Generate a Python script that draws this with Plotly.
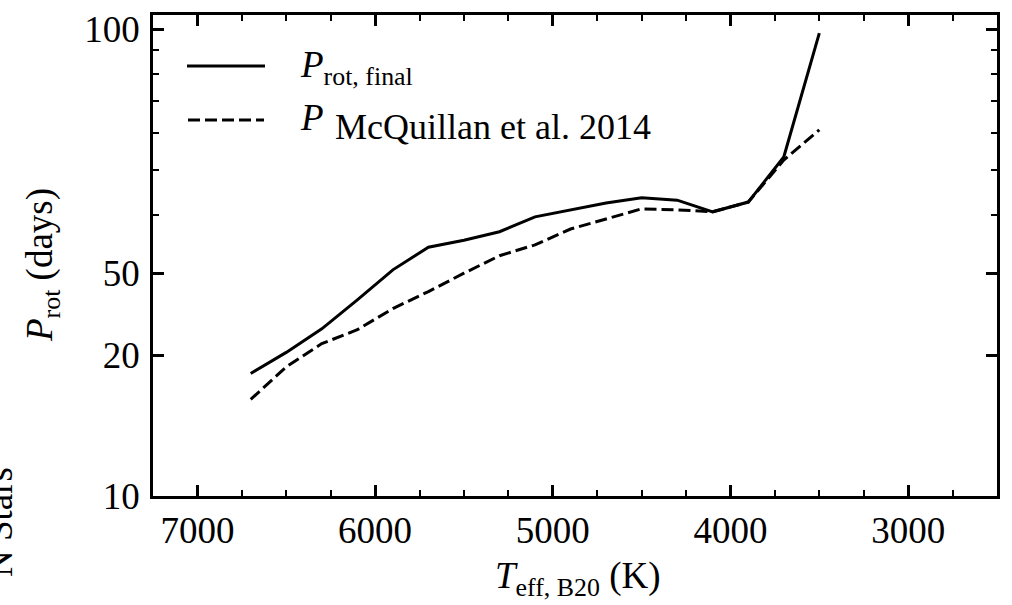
import plotly.graph_objects as go

# ---- data ----
teff = [6700, 6500, 6300, 6100, 5900, 5700, 5500, 5300, 5100, 4900, 4700, 4500, 4300, 4100, 3900, 3700, 3500]
prot_final = [18.3, 20.3, 22.8, 26.3, 30.5, 34.1, 35.3, 36.8, 39.6, 41.0, 42.4, 43.5, 43.0, 40.6, 42.6, 53.2, 98.0]
prot_mcq = [16.1, 18.9, 21.2, 22.7, 25.2, 27.4, 30.0, 32.7, 34.5, 37.3, 39.2, 41.2, 41.0, 40.6, 42.6, 52.4, 60.8]

x_ticks = [7000, 6000, 5000, 4000, 3000]
y_tickvals = [10, 20, 30, 100]
y_ticktext = ["10", "20", "50", "100"]
y_minor = [40, 50, 60, 70, 80, 90]

W, H = 1012, 605
ML, MR, MT, MB = 153, 15, 15, 109
PW, PH = W - ML - MR, H - MT - MB
FONT = "Liberation Serif, Times New Roman, serif"


def px(x):
    return (x - ML) / PW


def py(y):
    return (H - MB - y) / PH


fig = go.Figure()
fig.add_trace(go.Scatter(x=teff, y=prot_final, mode="lines",
                         line=dict(color="black", width=3), showlegend=False))
fig.add_trace(go.Scatter(x=teff, y=prot_mcq, mode="lines",
                         line=dict(color="black", width=3, dash="12px,5px"), showlegend=False))

axis_common = dict(showline=True, linecolor="black", linewidth=2.5, mirror="allticks",
                   ticks="inside", ticklen=11, tickwidth=2.5, tickcolor="black",
                   showgrid=False, zeroline=False,
                   tickfont=dict(family=FONT, size=37, color="black"))

fig.update_xaxes(range=[7250, 2500], tickmode="array", tickvals=x_ticks,
                 ticklabelstandoff=0,
                 minor=dict(dtick=250, tick0=0, ticks="inside", ticklen=6, tickwidth=2,
                            tickcolor="black", showgrid=False),
                 **axis_common)
fig.update_yaxes(type="log", range=[1, 2.03], tickmode="array",
                 tickvals=y_tickvals, ticktext=y_ticktext, ticklabelstandoff=3,
                 minor=dict(tickmode="array", tickvals=y_minor, ticks="inside", ticklen=6,
                            tickwidth=2, tickcolor="black", showgrid=False),
                 **axis_common)


def label(x, y, text, size=37, angle=0, xanchor="center", bg=None):
    d = dict(x=px(x), y=py(y), xref="paper", yref="paper", showarrow=False,
             xanchor=xanchor, yanchor="middle", textangle=angle, text=text,
             font=dict(family=FONT, size=size, color="black"))
    if bg:
        d["bgcolor"] = bg
    return d


ann = [
    label(578, 578, "<i>T</i><sub>eff, B20</sub> (K)"),
    label(42, 265, "<i>P</i><sub>rot</sub> (days)", angle=-90),
    label(-1, 522, "N Stars", angle=-90),
    label(298, 68, "<i>P</i><sub>rot, final</sub>", xanchor="left"),
    label(298, 118, "<i>P</i>", xanchor="left"),
    label(333, 127, "McQuillan et al. 2014", size=36, xanchor="left", bg="white"),
]

shapes = [
    dict(type="line", xref="paper", yref="paper", x0=px(187), x1=px(265), y0=py(66), y1=py(66),
         line=dict(color="black", width=3)),
    dict(type="line", xref="paper", yref="paper", x0=px(188), x1=px(264), y0=py(120), y1=py(120),
         line=dict(color="black", width=3, dash="12px,5px")),
]

fig.update_layout(width=W, height=H, margin=dict(l=ML, r=MR, t=MT, b=MB, autoexpand=False),
                  paper_bgcolor="white", plot_bgcolor="white",
                  font=dict(family=FONT, color="black"),
                  annotations=ann, shapes=shapes, showlegend=False)

fig.write_html("out.html")
